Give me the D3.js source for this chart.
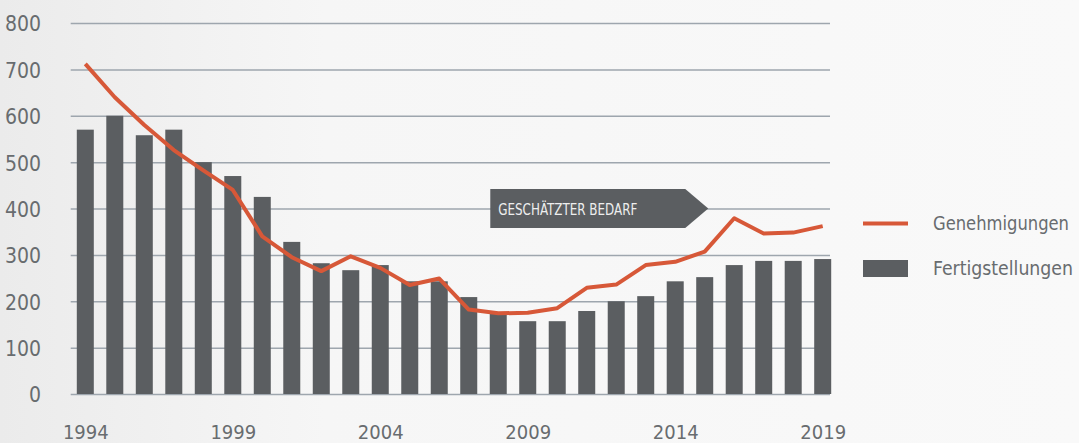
<!DOCTYPE html>
<html>
<head>
<meta charset="utf-8">
<script src="https://cdn.jsdelivr.net/npm/d3@7"></script>
<style>
  html, body { margin: 0; padding: 0; background: #f7f7f7; }
  #main svg { display: block; }
  text { font-family: "DejaVu Sans Condensed", "DejaVu Sans", sans-serif; font-stretch: condensed; }
</style>
</head>
<body>
<div id="main"></div>
<script>
const years = d3.range(1994, 2020);
// Fertigstellungen (bars)
const fertig = [570, 600, 558, 570, 500, 470, 425, 328, 282, 267, 278, 243, 243, 209, 175,
                157, 157, 179, 200, 211, 243, 252, 278, 287, 287, 291];
// Genehmigungen (line)
const genehm = [712, 640, 580, 526, 482, 440, 340, 295, 265, 297, 272, 235, 249, 182, 174,
                175, 185, 229, 236, 278, 285, 307, 379, 346, 348, 362];
const yTicks = [0, 100, 200, 300, 400, 500, 600, 700, 800];
const xTicks = [1994, 1999, 2004, 2009, 2014, 2019];
const seriesNames = ["Genehmigungen", "Fertigstellungen"];
const note = { text: "GESCHÄTZTER BEDARF", from: 2007.73, to: 2015.12, level: 400 };

const ctx = {
    w: 1079,
    h: 443,
    BAR_COLOR: "#5b5e61",
    LINE_COLOR: "#d75838",
    GRID_COLOR: "#9ea6ae",
    TEXT_COLOR: "#686c6f",
};

function createViz(){
    let svg = d3.select("#main").append("svg")
        .attr("width", ctx.w).attr("height", ctx.h);

    // background
    let defs = svg.append("defs");
    let grad = defs.append("linearGradient").attr("id", "bg")
        .attr("x1", 0).attr("x2", 1).attr("y1", 0).attr("y2", 0);
    grad.append("stop").attr("offset", "0%").attr("stop-color", "#ebebeb");
    grad.append("stop").attr("offset", "30%").attr("stop-color", "#f6f6f6");
    grad.append("stop").attr("offset", "100%").attr("stop-color", "#f9f9f9");
    svg.append("rect").attr("width", ctx.w).attr("height", ctx.h).attr("fill", "url(#bg)");

    const x = d3.scaleLinear().domain([1994, 2019]).range([85.3, 822.7]);
    const y = d3.scaleLinear().domain([0, 800]).range([394, 23]);
    const barW = 17;

    // grid + y labels
    let yAxis = svg.append("g").attr("transform", "translate(830,0)")
        .call(d3.axisLeft(y).tickValues(yTicks).tickSize(759.3).tickPadding(29.7));
    yAxis.select(".domain").remove();
    yAxis.selectAll("line").attr("stroke", ctx.GRID_COLOR).attr("stroke-width", 1.5);
    yAxis.selectAll("text").attr("fill", ctx.TEXT_COLOR).attr("font-size", 21)
        .attr("dy", "0.38em").style("font-family", null);

    // bars
    svg.append("g").selectAll("rect")
        .data(years)
        .enter()
        .append("rect")
        .attr("x", (d) => x(d) - barW / 2)
        .attr("width", barW)
        .attr("y", (d, i) => y(fertig[i]))
        .attr("height", (d, i) => y(0) - y(fertig[i]))
        .attr("fill", ctx.BAR_COLOR);

    // line
    let line = d3.line().x((d) => x(d)).y((d, i) => y(genehm[i]));
    svg.append("path")
        .datum(years)
        .attr("d", line)
        .attr("fill", "none")
        .attr("stroke", ctx.LINE_COLOR)
        .attr("stroke-width", 4)
        .attr("stroke-linejoin", "round");

    // x axis labels
    let xAxis = svg.append("g").attr("transform", "translate(0,394)")
        .call(d3.axisBottom(x).tickValues(xTicks).tickFormat(d3.format("d")).tickSize(0));
    xAxis.select(".domain").remove();
    xAxis.selectAll("text").attr("fill", ctx.TEXT_COLOR).attr("font-size", 20)
        .attr("y", 45).attr("dy", 0).style("font-family", null);

    // annotation arrow
    let x0 = x(note.from), x1 = x(note.to), yc = y(note.level);
    let half = 19.5, tip = 23;
    svg.append("path")
        .attr("d", `M${x0},${yc - half}L${x1 - tip},${yc - half}L${x1},${yc}L${x1 - tip},${yc + half}L${x0},${yc + half}Z`)
        .attr("fill", ctx.BAR_COLOR);
    svg.append("text")
        .attr("x", x0 + 8).attr("y", yc + 6)
        .attr("font-size", 16)
        .attr("fill", "#eeeeee")
        .attr("textLength", 139).attr("lengthAdjust", "spacingAndGlyphs")
        .text(note.text);

    // legend
    let leg = svg.append("g");
    leg.append("line").attr("x1", 863).attr("x2", 908).attr("y1", 223.5).attr("y2", 223.5)
        .attr("stroke", ctx.LINE_COLOR).attr("stroke-width", 4);
    leg.append("rect").attr("x", 863).attr("width", 45).attr("y", 260).attr("height", 17)
        .attr("fill", ctx.BAR_COLOR);
    leg.selectAll("text.lab")
        .data(seriesNames)
        .enter()
        .append("text")
        .attr("class", "lab")
        .attr("x", 933)
        .attr("y", (d, i) => 223.5 + i * 45)
        .attr("dy", "0.35em")
        .attr("font-size", 19)
        .attr("fill", ctx.TEXT_COLOR)
        .attr("textLength", (d, i) => i === 0 ? 136 : 140)
        .attr("lengthAdjust", "spacingAndGlyphs")
        .text((d) => d);
}

createViz();
</script>
</body>
</html>
